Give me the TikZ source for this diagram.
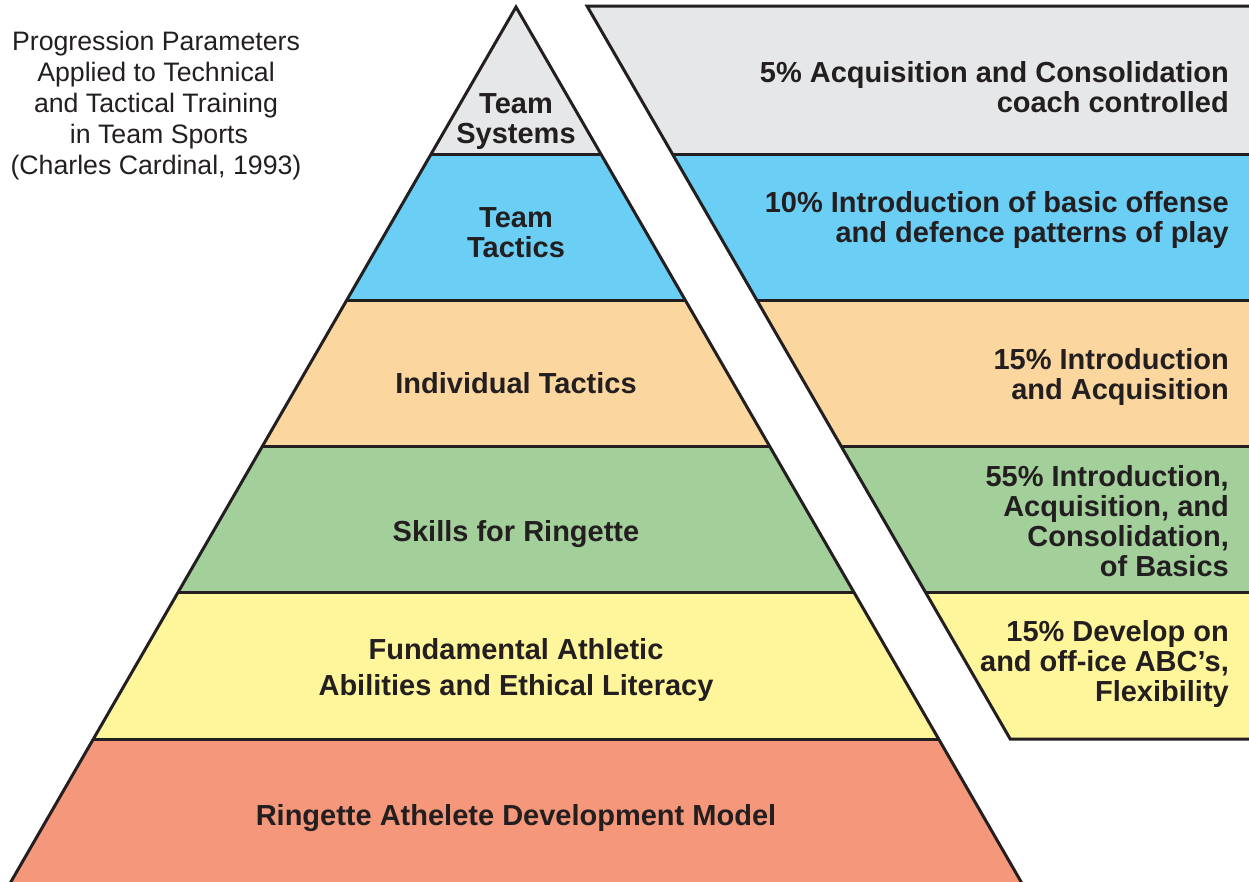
\documentclass[tikz,border=0pt]{standalone}
\usepackage{fontspec}
\setmainfont{Liberation Sans}
\definecolor{ink}{HTML}{231F20}
\definecolor{cgray}{HTML}{E6E7E8}
\definecolor{cblue}{HTML}{6BCEF5}
\definecolor{cpeach}{HTML}{FBD69E}
\definecolor{cgreen}{HTML}{A3CF9B}
\definecolor{cyellow}{HTML}{FFF59A}
\definecolor{csalmon}{HTML}{F5977A}
\begin{document}
\begin{tikzpicture}[x=1pt,y=-1pt,
  edge/.style={draw=ink,line width=3pt,line join=miter},
  lbl/.style={text=ink,inner sep=0pt,align=center,font=\fontsize{29}{30}\selectfont\bfseries},
  rlbl/.style={text=ink,inner sep=0pt,align=right,anchor=east,font=\fontsize{29}{30}\selectfont\bfseries},
  ttl/.style={text=ink,inner sep=0pt,align=center,font=\fontsize{26.7}{31}\selectfont}]
\useasboundingbox (0,0) rectangle (1249,881);
\clip (0,0) rectangle (1249,881);
% pyramid fills
\fill[cgray]   (516,7) -- (600.9,154) -- (431.1,154) -- cycle;
\fill[cblue]   (431.1,154) -- (600.9,154) -- (685.2,300) -- (346.8,300) -- cycle;
\fill[cpeach]  (346.8,300) -- (685.2,300) -- (769.5,446) -- (262.5,446) -- cycle;
\fill[cgreen]  (262.5,446) -- (769.5,446) -- (853.8,592) -- (178.2,592) -- cycle;
\fill[cyellow] (178.2,592) -- (853.8,592) -- (938.7,739) -- (93.3,739) -- cycle;
\fill[csalmon] (93.3,739) -- (938.7,739) -- (1026.4,891) -- (5.6,891) -- cycle;
% right panel fills
\fill[cgray]   (587,6) -- (1260,6) -- (1260,154) -- (672.5,154) -- cycle;
\fill[cblue]   (672.5,154) -- (1260,154) -- (1260,300) -- (756.8,300) -- cycle;
\fill[cpeach]  (756.8,300) -- (1260,300) -- (1260,446) -- (841.1,446) -- cycle;
\fill[cgreen]  (841.1,446) -- (1260,446) -- (1260,592) -- (925.4,592) -- cycle;
\fill[cyellow] (925.4,592) -- (1260,592) -- (1260,739) -- (1010.2,739) -- cycle;
% pyramid outlines
\draw[edge] (5.6,891) -- (516,7) -- (1026.4,891);
\draw[edge] (431.1,154) -- (600.9,154);
\draw[edge] (346.8,300) -- (685.2,300);
\draw[edge] (262.5,446) -- (769.5,446);
\draw[edge] (178.2,592) -- (853.8,592);
\draw[edge] (93.3,739) -- (938.7,739);
% right panel outlines
\draw[edge] (1260,6) -- (587,6) -- (1010.2,739) -- (1260,739);
\draw[edge] (672.5,154) -- (1260,154);
\draw[edge] (756.8,300) -- (1260,300);
\draw[edge] (841.1,446) -- (1260,446);
\draw[edge] (925.4,592) -- (1260,592);
% title
\node[ttl] (title) at (156,106) {Progression Parameters\\Applied to Technical\\and Tactical Training\\\hphantom{i}in Team Sports\\(Charles Cardinal, 1993)};
% pyramid labels
\node[lbl] (sys) at (516,121.5) {Team\\Systems};
\node[lbl] (tac) at (516,233) {Team\\Tactics};
\node[lbl] (ind) at (516,383.5) {Individual Tactics};
\node[lbl] (skl) at (516,534) {Skills for Ringette};
\node[lbl,font=\fontsize{29}{36}\selectfont\bfseries] (fun) at (516,670) {Fundamental Athletic\\Abilities and Ethical Literacy};
\node[lbl] (rad) at (516,818) {Ringette Athelete Development Model};
% right labels
\node[rlbl] (p5) at (1229,87) {5\% Acquisition and Consolidation\\coach controlled};
\node[rlbl] (p10) at (1229,220) {10\% Introduction of basic offense\\and defence patterns of play};
\node[rlbl] (p15) at (1229,377) {15\% Introduction\\and Acquisition};
\node[rlbl] (p55) at (1229,521) {55\% Introduction,\\Acquisition, and\\Consolidation,\\of Basics};
\node[rlbl] (p15b) at (1229,664) {15\% Develop on\\and off-ice ABC’s,\\Flexibility};
\end{tikzpicture}
\end{document}
